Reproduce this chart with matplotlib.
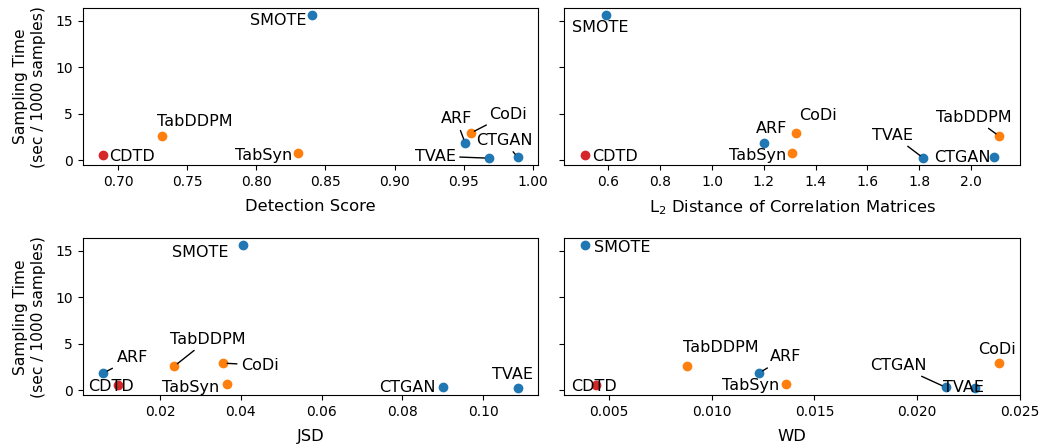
import matplotlib
matplotlib.use("Agg")
import matplotlib.pyplot as plt
from matplotlib.ticker import MultipleLocator

methods = ["SMOTE", "TabDDPM", "CDTD", "TabSyn", "ARF", "CoDi", "TVAE", "CTGAN"]
sampling_time = [15.6, 2.6, 0.56, 0.75, 1.88, 2.94, 0.25, 0.33]

detection_score = [0.840, 0.7316, 0.6895, 0.830, 0.951, 0.955, 0.968, 0.989]
l2_corr = [0.59, 2.11, 0.51, 1.31, 1.20, 1.325, 1.817, 2.09]
jsd = [0.0405, 0.0235, 0.0097, 0.0366, 0.0060, 0.0356, 0.1085, 0.0901]
wd = [0.00383, 0.0088, 0.00435, 0.0136, 0.0123, 0.0240, 0.0228, 0.0214]

colors = {"SMOTE": "tab:blue", "ARF": "tab:blue", "TVAE": "tab:blue", "CTGAN": "tab:blue",
          "TabDDPM": "tab:orange", "TabSyn": "tab:orange", "CoDi": "tab:orange",
          "CDTD": "tab:red"}

# label placement per panel: (dx px, dy px (up), ha, draw line)
placements = [
    {"SMOTE": (-5, -5, "right", False), "TabDDPM": (-5, 15, "left", False),
     "CDTD": (6, -1, "left", False), "TabSyn": (-6, -2, "right", False),
     "ARF": (-9, 24, "center", True), "CoDi": (18, 19, "left", True),
     "CTGAN": (-42, 17, "left", True), "TVAE": (-33, 2, "right", True)},
    {"SMOTE": (-6, -12, "center", False), "CDTD": (7, -1, "left", False),
     "ARF": (8, 14, "center", False), "TabSyn": (-6, -2, "right", False),
     "CoDi": (22, 18, "center", False), "TVAE": (-10, 23, "right", True),
     "CTGAN": (-4, 0, "right", False), "TabDDPM": (-26, 19, "center", True)},
    {"SMOTE": (-14, -7, "right", False), "TabDDPM": (34, 27, "center", True),
     "ARF": (13, 15, "left", True), "CoDi": (18, -2, "left", True),
     "CDTD": (-7, -1, "center", False), "TabSyn": (-8, -4, "right", False),
     "CTGAN": (-8, 0, "right", False), "TVAE": (-5, 14, "center", False)},
    {"SMOTE": (9, -2, "left", False), "TabDDPM": (-4, 19, "left", False),
     "ARF": (11, 16, "left", True), "TabSyn": (-6, -2, "right", False),
     "CDTD": (-2, -1, "center", False), "CoDi": (-2, 14, "center", False),
     "CTGAN": (-48, 22, "center", True), "TVAE": (-11, 1, "center", False)},
]

panels = [
    (detection_score, "Detection Score"),
    (l2_corr, "L$_2$ Distance of Correlation Matrices"),
    (jsd, "JSD"),
    (wd, "WD"),
]

fig, axes = plt.subplots(2, 2, figsize=(10.43, 4.48), dpi=100, sharey="row")
fig.subplots_adjust(left=0.0793, right=0.978, top=0.982, bottom=0.1176,
                    wspace=0.057, hspace=0.463)

px = 72 / 100  # pixel -> point

for ax, (xvals, xlabel), place in zip(axes.flat, panels, placements):
    for name, x, y in zip(methods, xvals, sampling_time):
        ax.scatter(x, y, color=colors[name])
    for name, x, y in zip(methods, xvals, sampling_time):
        dx, dy, ha, line = place[name]
        arrow = None
        if line:
            arrow = dict(arrowstyle="-", color="k", lw=1, shrinkA=1, shrinkB=3)
        ax.annotate(name, (x, y), xytext=(dx * px, dy * px), textcoords="offset points",
                    ha=ha, va="center", fontsize=11.5, arrowprops=arrow)
    ax.set_xlabel(xlabel, fontsize=11.8, labelpad=7)
    ax.tick_params(labelsize=10)

axes[1, 1].xaxis.set_major_locator(MultipleLocator(0.005))

for ax in axes[:, 0]:
    ax.set_ylabel("Sampling Time\n(sec / 1000 samples)", fontsize=11.2, labelpad=7)

fig.savefig("out.png", dpi=100)
